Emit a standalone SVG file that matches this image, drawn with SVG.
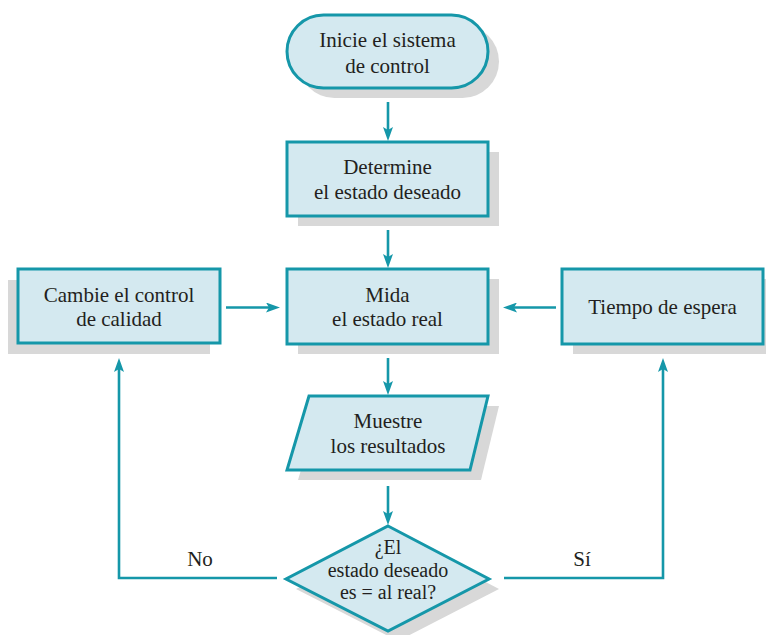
<svg xmlns="http://www.w3.org/2000/svg" width="766" height="635" viewBox="0 0 766 635">
  <style>
    .shadow { fill: #d8d8d8; stroke: none; }
    .box { fill: #d4e9f0; stroke: #1597a9; stroke-width: 3; }
    .lbl { font-family: "Liberation Serif", "Times New Roman", serif; font-size: 21px; fill: #231f20; text-anchor: middle; }
    .dlbl { font-size: 20px; }
    .conn { fill: none; stroke: #1597a9; stroke-width: 2.6; marker-end: url(#arr); }
  </style>
  <defs>
    <marker id="arr" viewBox="0 0 14 10" refX="4" refY="5" markerWidth="14" markerHeight="10" markerUnits="userSpaceOnUse" orient="auto">
      <path d="M0,0 L14,5 L0,10 L3,5 Z" fill="#1597a9"/>
    </marker>
  </defs>
  <rect width="766" height="635" fill="#ffffff"/>

  <g id="inicio">
    <rect class="shadow" x="298" y="25" width="201" height="73" rx="36.5"/>
    <rect class="box" x="287" y="15" width="201" height="73" rx="36.5"/>
    <text class="lbl" x="387.5" y="47">Inicie el sistema</text>
    <text class="lbl" x="387.5" y="73">de control</text>
  </g>

  <g id="determine">
    <rect class="shadow" x="298" y="152" width="201" height="74"/>
    <rect class="box" x="287" y="142" width="201" height="74"/>
    <text class="lbl" x="387.5" y="174">Determine</text>
    <text class="lbl" x="387.5" y="199">el estado deseado</text>
  </g>

  <g id="mida">
    <rect class="shadow" x="298" y="279" width="201" height="75"/>
    <rect class="box" x="287" y="269" width="201" height="75"/>
    <text class="lbl" x="387.5" y="302">Mida</text>
    <text class="lbl" x="387.5" y="326">el estado real</text>
  </g>

  <g id="cambie">
    <rect class="shadow" x="8" y="280" width="202" height="74"/>
    <rect class="box" x="18" y="269" width="202" height="74"/>
    <text class="lbl" x="119" y="302">Cambie el control</text>
    <text class="lbl" x="119" y="326">de calidad</text>
  </g>

  <g id="tiempo">
    <rect class="shadow" x="573" y="279" width="201" height="75"/>
    <rect class="box" x="562" y="269" width="201" height="75"/>
    <text class="lbl" x="662.5" y="314">Tiempo de espera</text>
  </g>

  <g id="muestre">
    <polygon class="shadow" points="320,406 499,406 481,480 298,480"/>
    <polygon class="box" points="309,396 488,396 470,470 287,470"/>
    <text class="lbl" x="388" y="428">Muestre</text>
    <text class="lbl" x="388" y="453">los resultados</text>
  </g>

  <g id="decision">
    <polygon class="shadow" points="398,536 499,589 398,641 296,589"/>
    <polygon class="box" points="388,526 489,579 388,631 286,579"/>
    <text class="lbl dlbl" x="388" y="554">¿El</text>
    <text class="lbl dlbl" x="388" y="576.5">estado deseado</text>
    <text class="lbl dlbl" x="388" y="599">es = al real?</text>
  </g>

  <g id="connectors">
    <path class="conn" d="M388,102 V131"/>
    <path class="conn" d="M388,230 V258"/>
    <path class="conn" d="M388,358 V385"/>
    <path class="conn" d="M388,486 V515"/>
    <path class="conn" d="M226,307.5 H270"/>
    <path class="conn" d="M556,307.5 H513"/>
    <path class="conn" d="M277,578 H119 V368"/>
    <path class="conn" d="M504,578 H663 V368"/>
    <text class="lbl" x="200" y="566">No</text>
    <text class="lbl" x="582" y="566">Sí</text>
  </g>
</svg>
